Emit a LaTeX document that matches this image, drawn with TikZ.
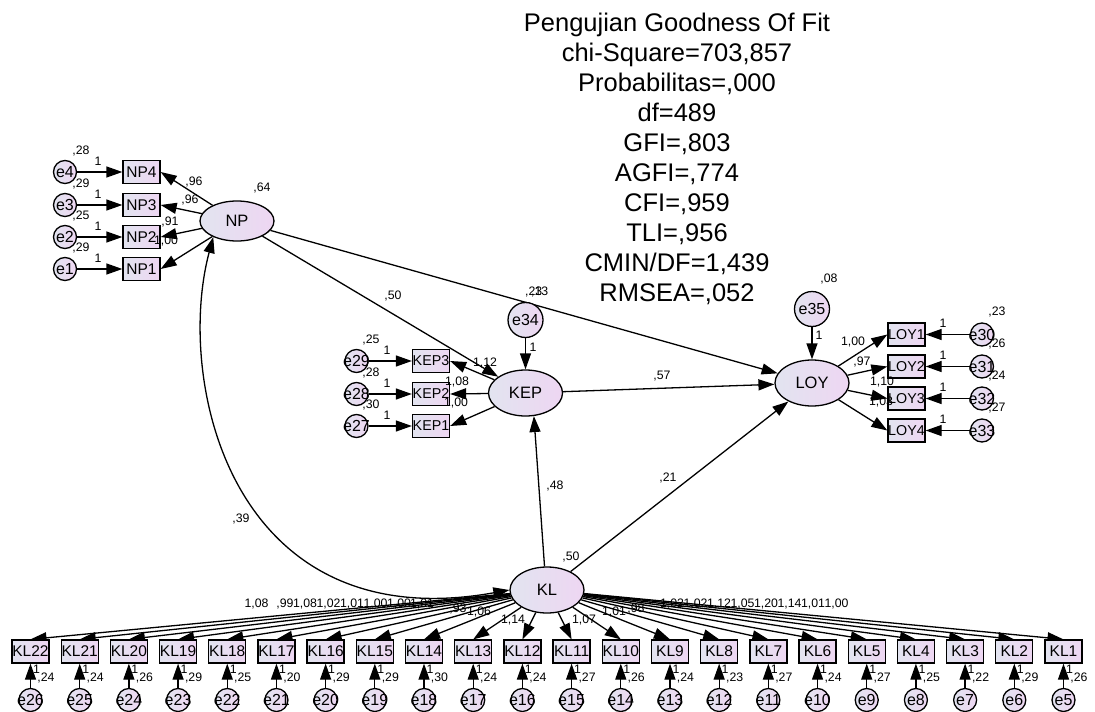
\documentclass[tikz,border=0pt]{standalone}
\usepackage{fontspec}
\setmainfont{Liberation Sans}
\usetikzlibrary{arrows.meta,shapes.geometric,backgrounds}
\definecolor{fillA}{RGB}{226,228,240}
\definecolor{fillB}{RGB}{238,214,242}
\newcommand{\zw}[1]{\makebox[0pt]{#1}}
\tikzset{
  lat/.style={ellipse, draw, line width=1.3pt, minimum width=74pt, minimum height=46pt, inner sep=0pt, left color=fillA, right color=fillB, font=\fontsize{16.5}{18}\selectfont},
  obs/.style={rectangle, draw, line width=1.3pt, minimum width=37pt, minimum height=23pt, inner sep=0pt, left color=fillA, right color=fillB, font=\fontsize{15.5}{18}\selectfont},
  obss/.style={obs, font=\fontsize{14.3}{18}\selectfont},
  err/.style={circle, draw, line width=1.3pt, minimum size=23pt, inner sep=0pt, left color=fillA, right color=fillB, font=\fontsize{16}{18}\selectfont},
  bigerr/.style={err, minimum size=35pt},
  lbl/.style={inner sep=0pt, font=\fontsize{12.3}{13}\selectfont},
  arr/.style={line width=1.3pt, -{Triangle[length=16pt,width=11pt]}},
  darr/.style={line width=1.3pt, {Triangle[length=16pt,width=11pt]}-{Triangle[length=16pt,width=11pt]}},
}
\begin{document}
\begin{tikzpicture}[x=1pt,y=-1pt]
\useasboundingbox (0,0) rectangle (1095,712);
% title
\node[anchor=north, inner sep=0pt, align=center, font=\fontsize{25.5}{30}\selectfont] (title) at (677,13.3)
 {Pengujian Goodness Of Fit\\chi-Square=703,857\\Probabilitas=,000\\df=489\\GFI=,803\\AGFI=,774\\CFI=,959\\TLI=,956\\CMIN/DF=1,439\\RMSEA=,052};
% latent
\node[lat, minimum height=40pt] (NP) at (237,221) {NP};
\node[lat] (KEP) at (525.5,393) {KEP};
\node[lat] (LOY) at (812,383) {LOY};
\node[lat] (KL) at (547,590) {KL};
% NP indicators
\foreach \i/\y in {4/172, 3/205, 2/237, 1/269} {
  \node[obs] (NP\i) at (141.5,\y) {\zw{NP\i}};
  \node[err] (e\i) at (65,\y) {\zw{e\i}};
}
% KEP indicators
\foreach \i/\e/\y in {3/29/361, 2/28/394, 1/27/426} {
  \node[obss] (KEP\i) at (431,\y) {\zw{KEP\i}};
  \node[err] (e\e) at (356.5,\y) {\zw{e\e}};
}
\node[bigerr] (e34) at (525.5,320) {e34};
% LOY indicators
\foreach \i/\e/\y in {1/30/334.5, 2/31/366.5, 3/32/398.5, 4/33/430.5} {
  \node[obss] (LOY\i) at (906.5,\y) {\zw{LOY\i}};
  \node[err] (e\e) at (982,\y) {\zw{e\e}};
}
\node[bigerr] (e35) at (812,309) {e35};
% KL indicators
\foreach \i [evaluate=\i as \e using int(\i+4), evaluate=\i as \xx using 30.5+49.19*(22-\i)] in {1,...,22} {
  \node[obs] (KL\i) at (\xx,651.5) {\zw{KL\i}};
  \node[err] (e\e) at (\xx,700) {\zw{e\e}};
}
% connectors
\begin{scope}[on background layer]
\foreach \i in {1,2,3,4} { \draw[arr] (e\i) -- (NP\i); \draw[arr] (NP) -- (NP\i.east); }
\foreach \i/\e in {3/29,2/28,1/27} { \draw[arr] (e\e) -- (KEP\i); \draw[arr] (KEP) -- (KEP\i.east); }
\foreach \i/\e in {1/30,2/31,3/32,4/33} { \draw[arr] (e\e) -- (LOY\i); \draw[arr] (LOY) -- (LOY\i.west); }
\foreach \i [evaluate=\i as \e using int(\i+4)] in {1,...,22} { \draw[arr] (e\e) -- (KL\i); \draw[arr] (KL) -- (KL\i.north); }
\draw[arr] (e34) -- (KEP);
\draw[arr] (e35) -- (LOY);
\draw[arr] (NP) -- (KEP);
\draw[arr] (NP) -- (LOY);
\draw[arr] (KEP) -- (LOY);
\draw[arr] (KL.96) -- (KEP.290);
\draw[arr] (KL) -- (LOY);
\draw[darr] (NP.214) .. controls (175,380) and (230,640) .. (KL.west);
\end{scope}
% labels NP
\node[lbl] (lNP) at (262,188) {,64};
\foreach \y/\v in {172/{,28}, 205/{,29}, 237/{,25}, 269/{,29}} {
  \node[lbl] at (81,\y-21) {\v};
  \node[lbl] at (98,\y-11) {1};
}
\node[lbl] (lnp4) at (194,182) {,96};
\node[lbl] (lnp3) at (190,200) {,96};
\node[lbl] (lnp2) at (170,222) {,91};
\node[lbl] (lnp1) at (166,241) {1,00};
% labels KEP
\foreach \y/\v in {361/{,25}, 394/{,28}, 426/{,30}} {
  \node[lbl] at (371,\y-21) {\v};
  \node[lbl] at (387,\y-11) {1};
}
\node[lbl] (lkep3) at (485,363) {1,12};
\node[lbl] (lkep2) at (457,382) {1,08};
\node[lbl] (lkep1) at (456,403) {1,00};
\node[lbl, anchor=west] (le34a) at (525,292) {,23};
\node[lbl, anchor=west] (le34b) at (531,292) {,13};
\node[lbl] (l34) at (533,347) {1};
% labels LOY
\foreach \y/\v in {334.5/{,23}, 366.5/{,26}, 398.5/{,24}, 430.5/{,27}} {
  \node[lbl] at (997,\y-23) {\v};
  \node[lbl] at (943,\y-11.5) {1};
}
\node[lbl] (le35) at (829,279) {,08};
\node[lbl] (l35) at (819,335) {1};
\node[lbl] (lloy1) at (853,342) {1,00};
\node[lbl] (lloy2) at (862,362) {,97};
\node[lbl] (lloy3) at (882,382) {1,10};
\node[lbl] (lloy4) at (881,402) {1,03};
% structural labels
\node[lbl] (lnpkep) at (393,296) {,50};
\node[lbl] (lkeploy) at (662,376) {,57};
\node[lbl] (lklkep) at (555,486) {,48};
\node[lbl] (lklloy) at (668,478) {,21};
\node[lbl] (lcov) at (241,519) {,39};
\node[lbl] (lkl) at (571,557) {,50};
% KL error labels
\foreach \i/\v in {22/{,24}, 21/{,24}, 20/{,26}, 19/{,29}, 18/{,25}, 17/{,20}, 16/{,29}, 15/{,29}, 14/{,30}, 13/{,24}, 12/{,24}, 11/{,27}, 10/{,26}, 9/{,24}, 8/{,23}, 7/{,27}, 6/{,24}, 5/{,27}, 4/{,25}, 3/{,22}, 2/{,29}, 1/{,26}} {
  \pgfmathsetmacro\xx{30.5+49.19*(22-\i)}
  \node[lbl] at (\xx+6,669) {1};
  \node[lbl] at (\xx+15.5,678) {\v};
}
% KL loadings
\foreach \x/\y/\v in {256.5/604/{1,08}, 285/604/{,99}, 305/604/{1,08}, 328.5/604/{1,02}, 352/604/{1,01}, 375.5/604/{1,00}, 399/604/{1,00}, 422/604/{1,01}, 458/609/{,93}, 479/612/{1,06}, 513/620/{1,14}, 584/620/{1,07}, 614/612/{1,01}, 636/609/{,98}, 672/604/{1,02}, 695.5/604/{1,02}, 719/604/{1,12}, 742.5/604/{1,05}, 766/604/{1,20}, 789.5/604/{1,14}, 813/604/{1,01}, 836.5/604/{1,00}} {
  \node[lbl] at (\x,\y) {\v};
}
\end{tikzpicture}
\end{document}
